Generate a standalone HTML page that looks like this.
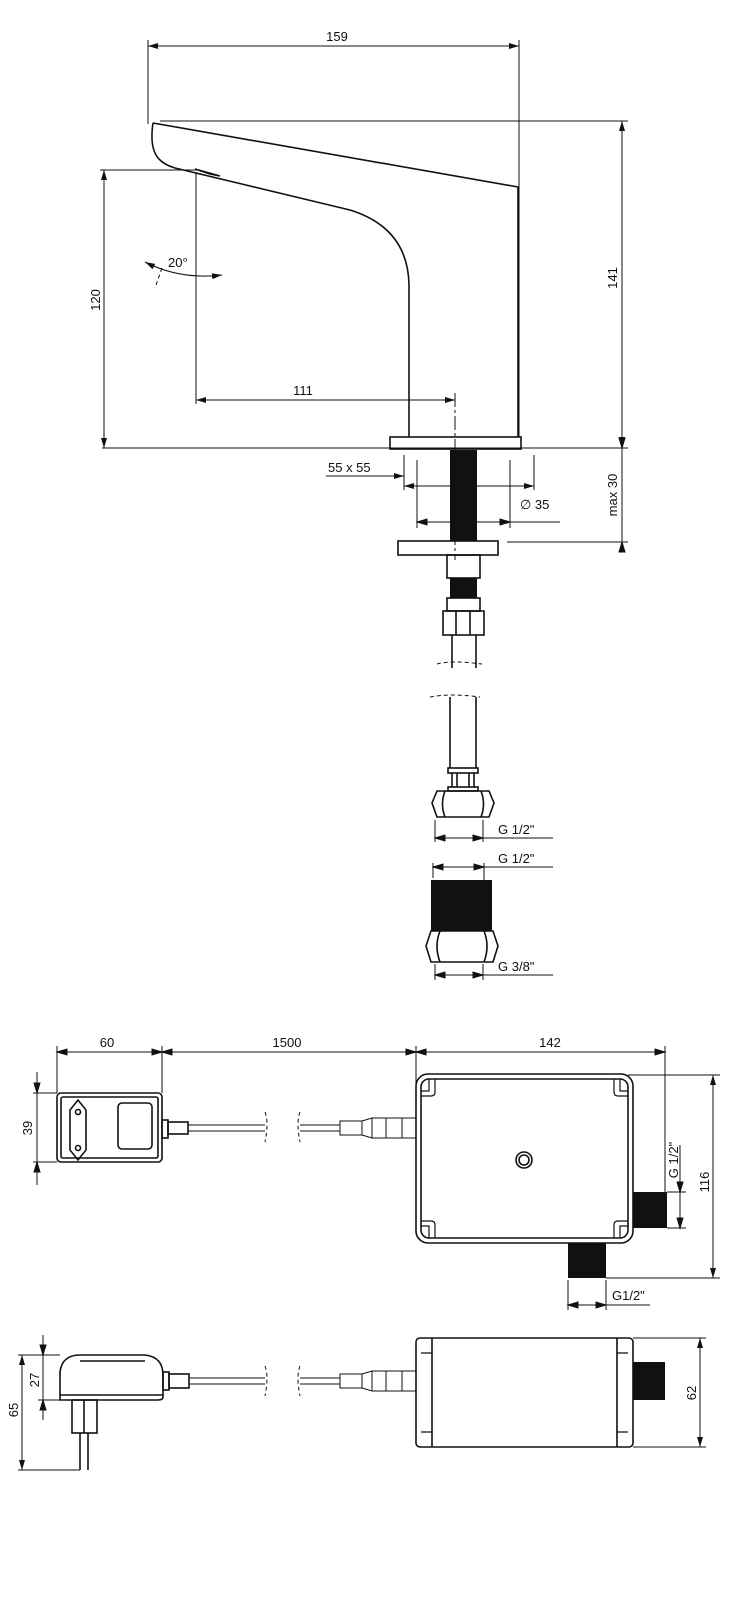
<!DOCTYPE html>
<html><head><meta charset="utf-8"><style>
html,body{margin:0;padding:0;background:#fff}
svg{display:block}
text{font-family:"Liberation Sans",sans-serif;font-size:13px;fill:#111}
</style></head><body>
<svg width="747" height="1600" viewBox="0 0 747 1600" xmlns="http://www.w3.org/2000/svg">
<defs>
<marker id="a" viewBox="0 0 10 6" refX="10" refY="3" markerWidth="10" markerHeight="6" orient="auto-start-reverse" markerUnits="userSpaceOnUse"><path d="M0,0L10,3L0,6z" fill="#111"/></marker>
</defs>
<g stroke="#111" fill="none" stroke-width="1">
<line x1="148" y1="46" x2="519" y2="46" marker-start="url(#a)" marker-end="url(#a)"/>
<line x1="148" y1="40" x2="148" y2="124"/>
<line x1="519" y1="40" x2="519" y2="437"/>
<line x1="160" y1="121" x2="628" y2="121"/>
<line x1="622" y1="121" x2="622" y2="447" marker-start="url(#a)" marker-end="url(#a)"/>
<line x1="102" y1="448" x2="628" y2="448"/>
<line x1="100" y1="170" x2="198" y2="170"/>
<line x1="104" y1="170" x2="104" y2="448" marker-start="url(#a)" marker-end="url(#a)"/>
<line x1="196" y1="172" x2="196" y2="404"/>
<line x1="196" y1="400" x2="455" y2="400" marker-start="url(#a)" marker-end="url(#a)"/>
<line x1="455" y1="393" x2="455" y2="560" stroke-dasharray="14,3,3,3"/>
<path d="M145,262 Q180,280 222,275" marker-start="url(#a)" marker-end="url(#a)"/>
<line x1="162" y1="268" x2="155" y2="288" stroke-dasharray="4,3"/>
</g>
<g stroke="#111" fill="none" stroke-width="1.6">
<path d="M153,123 L518,187 L518,437 M153,123 Q149,150 160,160 Q165,165 175,168 L350,210 Q408,228 409,285 L409,437"/>
<path d="M195,169 L220,176 L210,174z" fill="#111"/>
<rect x="390" y="437" width="131" height="12"/>
<rect x="398" y="541" width="100" height="14"/>
<rect x="447" y="555" width="33" height="23"/>
<rect x="447" y="598" width="33" height="13"/>
<rect x="443" y="611" width="41" height="24"/>
<line x1="456" y1="611" x2="456" y2="635"/><line x1="470" y1="611" x2="470" y2="635"/>
<line x1="452" y1="635" x2="452" y2="668"/><line x1="476" y1="635" x2="476" y2="668"/>
<line x1="450" y1="697" x2="450" y2="768"/><line x1="476" y1="697" x2="476" y2="768"/>
<rect x="448" y="768" width="30" height="5"/>
<rect x="448" y="787" width="30" height="4"/>
<line x1="452" y1="773" x2="452" y2="787"/><line x1="474" y1="773" x2="474" y2="787"/>
<line x1="457" y1="773" x2="457" y2="787"/><line x1="469" y1="773" x2="469" y2="787"/>
<path d="M437,791 L489,791 L494,803 L489,817 L437,817 L432,803 Z"/>
<path d="M445,791 Q440,804 445,817 M481,791 Q486,804 481,817"/>
<path d="M431,931 L493,931 L498,946 L493,962 L431,962 L426,946 Z"/>
<path d="M440,931 Q434,946 440,962 M484,931 Q490,946 484,962"/>
<rect x="57" y="1093" width="105" height="69" rx="4"/>
<rect x="61" y="1097" width="97" height="61" rx="2"/>
<path d="M78,1100 L86,1110 L86,1150 L78,1160 L70,1150 L70,1110Z"/>
<circle cx="78" cy="1112" r="2.5"/><circle cx="78" cy="1148" r="2.5"/>
<rect x="118" y="1103" width="34" height="46" rx="4"/>
<rect x="162" y="1120" width="6" height="18"/>
<rect x="168" y="1122" width="20" height="12"/>
<rect x="416" y="1074" width="217" height="169" rx="12"/>
<rect x="421" y="1079" width="207" height="159" rx="8"/>
<circle cx="524" cy="1160" r="8"/><circle cx="524" cy="1160" r="5"/>
<path d="M60,1400 L60,1372 Q62,1355 80,1355 L145,1355 Q163,1357 163,1375 L163,1397 Q163,1400 158,1400 Z"/>
<line x1="80" y1="1361" x2="145" y2="1361"/>
<line x1="60" y1="1395" x2="163" y2="1395"/>
<rect x="72" y="1400" width="25" height="33"/>
<line x1="84" y1="1400" x2="84" y2="1433"/>
<line x1="80" y1="1433" x2="80" y2="1470"/><line x1="88" y1="1433" x2="88" y2="1470"/>
<rect x="163" y="1372" width="6" height="18"/>
<rect x="169" y="1374" width="20" height="14"/>
<rect x="416" y="1338" width="217" height="109" rx="4"/>
<line x1="432" y1="1338" x2="432" y2="1447"/>
<line x1="617" y1="1338" x2="617" y2="1447"/>
</g>
<g stroke="#111" fill="none" stroke-width="1.2">
<path d="M421,1096 h10 q4,0 4,-4 v-13 M421,1091 h8 v-12"/>
<path d="M628,1096 h-10 q-4,0 -4,-4 v-13 M628,1091 h-8 v-12"/>
<path d="M421,1221 h10 q4,0 4,4 v13 M421,1226 h8 v12"/>
<path d="M628,1221 h-10 q-4,0 -4,4 v13 M628,1226 h-8 v12"/>
<path d="M421,1432 h11 M617,1432 h11 M421,1353 h11 M617,1353 h11"/>
</g>
<g fill="#111">
<rect x="450" y="450" width="27" height="91"/>
<rect x="450" y="578" width="27" height="20"/>
<rect x="431" y="880" width="61" height="51"/>
<rect x="633" y="1192" width="34" height="36"/>
<rect x="568" y="1243" width="38" height="35"/>
<rect x="633" y="1362" width="32" height="38"/>
</g>
<g stroke="#111" fill="none" stroke-width="1">
<line x1="404" y1="455" x2="404" y2="490"/><line x1="534" y1="455" x2="534" y2="490"/>
<line x1="326" y1="476" x2="404" y2="476" marker-end="url(#a)"/>
<line x1="404" y1="486" x2="534" y2="486" marker-start="url(#a)" marker-end="url(#a)"/>
<line x1="417" y1="460" x2="417" y2="528"/><line x1="510" y1="460" x2="510" y2="528"/>
<line x1="417" y1="522" x2="560" y2="522"/>
<path d="M417,522 l10,-3 v6z M510,522 l-10,-3 v6z" fill="#111"/>
<line x1="507" y1="542" x2="628" y2="542"/>
<line x1="622" y1="448" x2="622" y2="552"/>
<path d="M622,448 l-3,-10 h6z M622,542 l-3,10 h6z" fill="#111"/>
<path d="M437,664 q15,-4 45,0" stroke-dasharray="4,3"/>
<path d="M430,697 q20,-4 50,0" stroke-dasharray="4,3"/>
<line x1="435" y1="820" x2="435" y2="842"/><line x1="483" y1="820" x2="483" y2="842"/>
<line x1="435" y1="838" x2="553" y2="838"/>
<path d="M435,838 l10,-3 v6z M483,838 l-10,-3 v6z" fill="#111"/>
<line x1="433" y1="863" x2="433" y2="878"/><line x1="484" y1="863" x2="484" y2="885"/>
<line x1="433" y1="867" x2="553" y2="867"/>
<path d="M433,867 l10,-3 v6z M484,867 l-10,-3 v6z" fill="#111"/>
<line x1="435" y1="964" x2="435" y2="980"/><line x1="483" y1="964" x2="483" y2="980"/>
<line x1="435" y1="975" x2="553" y2="975"/>
<path d="M435,975 l10,-3 v6z M483,975 l-10,-3 v6z" fill="#111"/>
<line x1="57" y1="1052" x2="665" y2="1052"/>
<path d="M57,1052 l10,-3 v6z M162,1052 l-10,-3 v6z M162,1052 l10,-3 v6z M416,1052 l-10,-3 v6z M416,1052 l10,-3 v6z M665,1052 l-10,-3 v6z" fill="#111"/>
<line x1="57" y1="1046" x2="57" y2="1093"/><line x1="162" y1="1046" x2="162" y2="1093"/>
<line x1="416" y1="1046" x2="416" y2="1090"/><line x1="665" y1="1046" x2="665" y2="1192"/>
<line x1="33" y1="1093" x2="57" y2="1093"/><line x1="33" y1="1162" x2="57" y2="1162"/>
<line x1="37" y1="1072" x2="37" y2="1185"/>
<path d="M37,1093 l-3,-10 h6z M37,1162 l-3,10 h6z" fill="#111"/>
<path d="M188,1125 L265,1125 M188,1131 L265,1131"/>
<path d="M265,1112 q4,10 0,30 M300,1112 q-4,10 0,30" stroke-dasharray="4,3"/>
<path d="M300,1125 L340,1125 M300,1131 L340,1131"/>
<rect x="340" y="1121" width="22" height="14"/>
<path d="M362,1121 L372,1118 L372,1138 L362,1135"/>
<rect x="372" y="1118" width="44" height="20"/>
<line x1="386" y1="1118" x2="386" y2="1138"/><line x1="402" y1="1118" x2="402" y2="1138"/>
<path d="M189,1378 L265,1378 M189,1384 L265,1384"/>
<path d="M265,1366 q4,10 0,30 M300,1366 q-4,10 0,30" stroke-dasharray="4,3"/>
<path d="M300,1378 L340,1378 M300,1384 L340,1384"/>
<rect x="340" y="1374" width="22" height="14"/>
<path d="M362,1374 L372,1371 L372,1391 L362,1388"/>
<rect x="372" y="1371" width="44" height="20"/>
<line x1="386" y1="1371" x2="386" y2="1391"/><line x1="402" y1="1371" x2="402" y2="1391"/>
<line x1="628" y1="1075" x2="720" y2="1075"/><line x1="606" y1="1278" x2="720" y2="1278"/>
<line x1="713" y1="1075" x2="713" y2="1278" marker-start="url(#a)" marker-end="url(#a)"/>
<line x1="667" y1="1192" x2="686" y2="1192"/><line x1="667" y1="1228" x2="686" y2="1228"/>
<line x1="680" y1="1145" x2="680" y2="1228"/>
<path d="M680,1192 l-3,-10 h6z M680,1228 l-3,-10 h6z" fill="#111"/>
<line x1="568" y1="1280" x2="568" y2="1310"/><line x1="606" y1="1280" x2="606" y2="1310"/>
<line x1="568" y1="1305" x2="650" y2="1305"/>
<path d="M568,1305 l10,-3 v6z M606,1305 l-10,-3 v6z" fill="#111"/>
<line x1="18" y1="1355" x2="60" y2="1355"/><line x1="38" y1="1400" x2="60" y2="1400"/>
<line x1="18" y1="1470" x2="80" y2="1470"/>
<line x1="43" y1="1335" x2="43" y2="1420"/>
<path d="M43,1355 l-3,-10 h6z M43,1400 l-3,10 h6z" fill="#111"/>
<line x1="22" y1="1355" x2="22" y2="1470" marker-start="url(#a)" marker-end="url(#a)"/>
<line x1="633" y1="1338" x2="706" y2="1338"/><line x1="633" y1="1447" x2="706" y2="1447"/>
<line x1="700" y1="1338" x2="700" y2="1447" marker-start="url(#a)" marker-end="url(#a)"/>
</g>
<g>
<text x="337" y="41" text-anchor="middle">159</text>
<text x="303" y="395" text-anchor="middle">111</text>
<text x="168" y="267">20°</text>
<text transform="translate(100,300) rotate(-90)" text-anchor="middle">120</text>
<text transform="translate(617,278) rotate(-90)" text-anchor="middle">141</text>
<text transform="translate(617,495) rotate(-90)" text-anchor="middle">max 30</text>
<text x="328" y="472">55 x 55</text>
<text x="520" y="509">∅ 35</text>
<text x="498" y="834">G 1/2"</text>
<text x="498" y="863">G 1/2"</text>
<text x="498" y="971">G 3/8"</text>
<text x="107" y="1047" text-anchor="middle">60</text>
<text x="287" y="1047" text-anchor="middle">1500</text>
<text x="550" y="1047" text-anchor="middle">142</text>
<text transform="translate(32,1128) rotate(-90)" text-anchor="middle">39</text>
<text transform="translate(678,1160) rotate(-90)" text-anchor="middle">G 1/2"</text>
<text transform="translate(709,1182) rotate(-90)" text-anchor="middle">116</text>
<text x="612" y="1300">G1/2"</text>
<text transform="translate(39,1380) rotate(-90)" text-anchor="middle">27</text>
<text transform="translate(18,1410) rotate(-90)" text-anchor="middle">65</text>
<text transform="translate(696,1393) rotate(-90)" text-anchor="middle">62</text>
</g>
</svg>
</body></html>
